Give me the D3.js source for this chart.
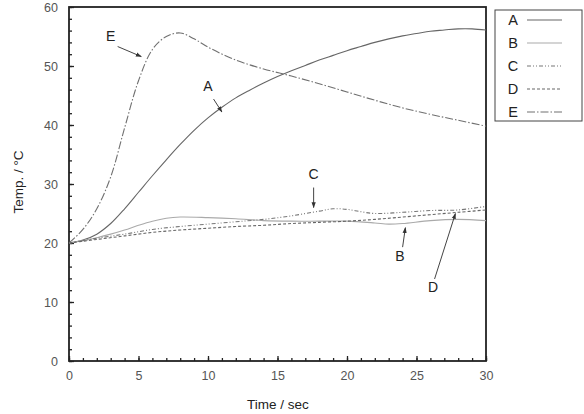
<!DOCTYPE html>
<html>
<head>
<meta charset="utf-8">
<script src="https://cdn.jsdelivr.net/npm/d3@7"></script>
<style>
  body { margin: 0; background: #fff; }
  svg { font-family: "Liberation Sans", Arial, sans-serif; }
</style>
</head>
<body>
<svg width="584" height="414"></svg>
<script>
// data (time in s, temperature in °C)
var timeA = [0,1,2,3,4,5,6,7,8,9,10,11,12,13,14,15,16,17,18,19,20,21,22,23,24,25,26,27,28,29,30];
var tempA = [20,20.5,21.5,23.3,25.8,28.6,31.4,34.1,36.7,39.1,41.2,43,44.6,45.9,47.1,48.2,49.2,50.1,51,51.8,52.6,53.3,54,54.6,55.1,55.5,55.9,56.1,56.3,56.3,56.1];

var timeB = [0,1,2,3,4,5,6,7,8,10,12,14,16,18,20,22,23,24,26,28,30];
var tempB = [20,20.4,20.9,21.5,22.2,23,23.7,24.2,24.4,24.3,24.1,23.8,23.7,23.7,23.7,23.4,23.2,23.3,23.8,24,23.8];

var timeC = [0,2,4,6,8,10,12,14,16,18,19,20,21,22,24,26,28,30];
var tempC = [20,20.8,21.5,22.3,22.8,23.2,23.6,24,24.6,25.4,25.8,25.7,25.3,25,25.2,25.5,25.6,26.2];

var timeD = [0,2,4,6,8,10,12,14,16,18,20,22,24,26,28,30];
var tempD = [20,20.6,21.2,21.8,22.2,22.5,22.8,23,23.3,23.5,23.7,24,24.4,24.8,25.2,25.6];

var timeE = [0,1,2,3,4,5,6,7,8,9,10,12,14,16,18,20,22,24,26,28,30];
var tempE = [20,22.3,25.8,31.2,39.5,47.5,52.8,55,55.6,54.6,53.2,51,49.5,48.3,47,45.6,44.2,42.9,41.8,40.8,39.8];

var seriesNames = ["A", "B", "C", "D", "E"];
var xTicks = [0, 5, 10, 15, 20, 25, 30];
var yTicks = [0, 10, 20, 30, 40, 50, 60];

// callouts: label position and arrow tip, in data units
var labelText = ["E", "A", "C", "B", "D"];
var labelAt = [[3.0, 54.3], [10, 45.8], [17.6, 30.8], [23.8, 17], [26.2, 11.7]];
var arrowFrom = [[3.5, 53.3], [10.4, 44.4], [17.6, 29.4], [24, 19.3], [26.3, 13.9]];
var arrowTo = [[5.2, 51.6], [11, 42.2], [17.6, 26], [24.2, 22.6], [27.8, 25]];

var series = [
  {name: "A", t: timeA, v: tempA, color: "#666", dash: null},
  {name: "B", t: timeB, v: tempB, color: "#aaa", dash: null},
  {name: "C", t: timeC, v: tempC, color: "#777", dash: "4,2,1,2,1,2"},
  {name: "D", t: timeD, v: tempD, color: "#666", dash: "3,2"},
  {name: "E", t: timeE, v: tempE, color: "#707070", dash: "8,2,1.5,2"}
];

var svg = d3.select("svg"),
    margin = {top: 7, right: 98, bottom: 53, left: 69},
    width = +svg.attr("width") - margin.left - margin.right,
    height = +svg.attr("height") - margin.top - margin.bottom;

var x = d3.scaleLinear().domain([0, 30]).range([0, width]),
    y = d3.scaleLinear().domain([0, 60]).range([height, 0]);

var g = svg.append("g")
    .attr("transform", "translate(" + margin.left + "," + margin.top + ")");

svg.append("defs").append("marker")
    .attr("id", "arr")
    .attr("viewBox", "0 0 10 10")
    .attr("refX", 9).attr("refY", 5)
    .attr("markerWidth", 6).attr("markerHeight", 6)
    .attr("orient", "auto")
  .append("path")
    .attr("d", "M0,1.5L10,5L0,8.5Z")
    .attr("fill", "#333");

// minor ticks, inward
g.append("g")
    .attr("transform", "translate(0," + height + ")")
    .call(d3.axisTop(x).tickValues(d3.range(0, 31, 1)).tickSize(3).tickFormat(""))
    .call(function(s) { s.select(".domain").remove(); s.selectAll("line").attr("stroke", "#222").attr("stroke-width", 1.3); });
g.append("g")
    .call(d3.axisRight(y).tickValues(d3.range(0, 61, 2)).tickSize(3).tickFormat(""))
    .call(function(s) { s.select(".domain").remove(); s.selectAll("line").attr("stroke", "#222").attr("stroke-width", 1.3); });

// major ticks + labels
g.append("g")
    .attr("transform", "translate(0," + height + ")")
    .call(d3.axisBottom(x).tickValues(xTicks).tickSize(0).tickPadding(10))
    .call(function(s) {
      s.select(".domain").remove();
      s.selectAll("text").attr("font-size", 12.5).attr("fill", "#555").attr("font-family", "Liberation Sans, Arial");
    });
g.append("g")
    .call(d3.axisTop(x).tickValues(xTicks).tickSize(5).tickFormat(""))
    .attr("transform", "translate(0," + height + ")")
    .call(function(s) { s.select(".domain").remove(); s.selectAll("line").attr("stroke", "#222").attr("stroke-width", 1.3); });
g.append("g")
    .call(d3.axisLeft(y).tickValues(yTicks).tickSize(0).tickPadding(11))
    .call(function(s) {
      s.select(".domain").remove();
      s.selectAll("text").attr("font-size", 12.5).attr("fill", "#555").attr("font-family", "Liberation Sans, Arial");
    });
g.append("g")
    .call(d3.axisRight(y).tickValues(yTicks).tickSize(5).tickFormat(""))
    .call(function(s) { s.select(".domain").remove(); s.selectAll("line").attr("stroke", "#222").attr("stroke-width", 1.3); });

// frame
g.append("rect")
    .attr("width", width).attr("height", height)
    .attr("fill", "none").attr("stroke", "#222").attr("stroke-width", 1.8);

// curves
var line = d3.line()
    .x(function(d) { return x(d[0]); })
    .y(function(d) { return y(d[1]); })
    .curve(d3.curveCatmullRom.alpha(0.5));

series.forEach(function(s) {
  g.append("path")
    .datum(d3.zip(s.t, s.v))
    .attr("fill", "none")
    .attr("stroke", s.color)
    .attr("stroke-width", 1.1)
    .attr("stroke-dasharray", s.dash)
    .attr("d", line);
});

// callout labels and arrows
labelText.forEach(function(t, i) {
  g.append("text")
    .attr("x", x(labelAt[i][0])).attr("y", y(labelAt[i][1]))
    .attr("text-anchor", "middle")
    .attr("font-size", 14).attr("fill", "#222")
    .text(t);
  g.append("line")
    .attr("x1", x(arrowFrom[i][0])).attr("y1", y(arrowFrom[i][1]))
    .attr("x2", x(arrowTo[i][0])).attr("y2", y(arrowTo[i][1]))
    .attr("stroke", "#444").attr("stroke-width", 1)
    .attr("marker-end", "url(#arr)");
});

// axis titles
svg.append("text")
    .attr("x", 278).attr("y", 409)
    .attr("text-anchor", "middle")
    .attr("font-size", 13.5).attr("fill", "#222")
    .text("Time / sec");
svg.append("text")
    .attr("transform", "translate(23,182) rotate(-90)")
    .attr("text-anchor", "middle")
    .attr("font-size", 13.5).attr("fill", "#222")
    .text("Temp. / °C");

// legend
var lg = svg.append("g").attr("transform", "translate(495,10)");
lg.append("rect")
    .attr("width", 87).attr("height", 111)
    .attr("fill", "#fff").attr("stroke", "#444").attr("stroke-width", 1);
series.forEach(function(s, i) {
  var yy = 10 + i * 23;
  lg.append("text")
    .attr("x", 18).attr("y", yy + 5)
    .attr("text-anchor", "middle")
    .attr("font-size", 14.5).attr("fill", "#222")
    .text(s.name);
  lg.append("line")
    .attr("x1", 32).attr("x2", 67)
    .attr("y1", yy).attr("y2", yy)
    .attr("stroke", s.color)
    .attr("stroke-width", 1.1)
    .attr("stroke-dasharray", s.dash);
});
</script>
</body>
</html>
